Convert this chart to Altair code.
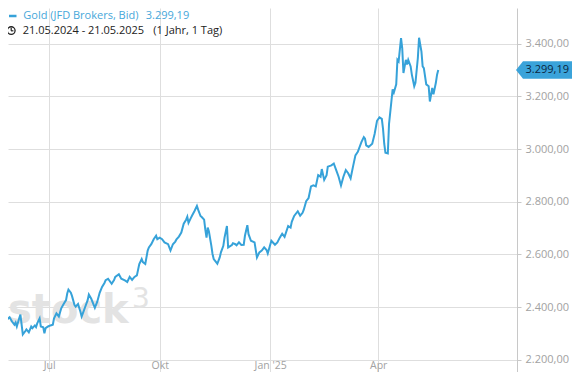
import altair as alt
import pandas as pd

# ---------------- data ----------------
start_date = "2024-05-21"
days = [0, 1, 3, 6, 8, 10, 12, 13, 14, 16, 17, 19, 21, 22, 24, 26, 27, 29, 30, 31,
        33, 34, 36, 37, 38, 40, 42, 44, 45, 47, 48, 49, 51, 53, 55, 56, 57, 59, 60, 62,
        63, 65, 67, 68, 69, 71, 73, 74,
        76, 79, 81, 83, 85, 87, 88, 90, 93, 95, 96, 99, 101, 104, 106, 108, 110, 112,
        114, 116, 118, 119, 121, 123, 124, 126, 128, 130, 131, 133, 135, 137, 140, 142,
        144, 146,
        147, 149, 151, 153, 155, 156, 157, 159, 160, 162, 164, 165, 167, 168, 170, 171,
        172, 173, 174, 176, 177, 178, 180, 181, 183, 184, 186, 187, 189, 190, 192, 193,
        194, 196, 197, 199, 201, 203, 204, 206, 207, 209, 212,
        214, 216, 218, 220, 222, 223, 226, 229, 231, 233, 235, 237, 240, 242, 243, 245,
        248, 250, 252, 253, 255, 257, 259, 261, 263, 265, 267, 268, 270, 272, 273, 276,
        278, 280, 282, 284, 286, 288, 290, 292, 294, 296, 298, 301, 303, 304, 305, 307,
        310, 312, 314, 316, 318, 319, 320, 321, 323, 324, 326, 327, 328, 330, 331, 332,
        334, 335, 336, 338, 339, 340, 342, 343, 345, 346, 348, 349, 351, 352, 353, 355,
        357, 358, 360, 361, 363, 364, 365]
price = [2428, 2391, 2335, 2354, 2362, 2346, 2334, 2342, 2327, 2358, 2372, 2297, 2309, 2316,
         2305, 2327, 2321, 2331, 2325, 2339, 2358, 2327, 2324, 2301, 2321, 2327, 2331, 2334,
         2358, 2377, 2371, 2365, 2396, 2412, 2427, 2452, 2467, 2455, 2442, 2409, 2402, 2412,
         2383, 2365, 2377, 2402, 2427, 2448,
         2432, 2398, 2421, 2455, 2477, 2492, 2503, 2508, 2489, 2503, 2515, 2525, 2508, 2502,
         2496, 2515, 2504, 2515, 2521, 2564, 2583, 2571, 2564, 2615, 2627, 2639, 2658, 2671,
         2658, 2664, 2658, 2646, 2639, 2615, 2639, 2649,
         2658, 2668, 2683, 2717, 2732, 2743, 2720, 2739, 2748, 2765, 2784, 2770, 2746, 2742,
         2732, 2694, 2664, 2702, 2687, 2634, 2602, 2583, 2571, 2565, 2589, 2608, 2633, 2664,
         2708, 2627, 2633, 2635, 2643, 2639, 2635, 2646, 2636, 2637, 2671, 2711, 2677, 2652,
         2646,
         2589, 2608, 2615, 2627, 2617, 2604, 2652, 2637, 2646, 2664, 2679, 2667, 2708, 2702,
         2724, 2746, 2764, 2747, 2758, 2770, 2802, 2814, 2858, 2862, 2858, 2901, 2895, 2924,
         2883, 2901, 2933, 2938, 2945, 2920, 2895, 2862, 2895, 2920, 2908, 2889, 2933, 2976,
         2989, 3026, 3045, 3039, 3014, 3008, 3020, 3057, 3107, 3120, 3114, 3076, 3020, 2986,
         2983, 3095, 3182, 3226, 3214, 3245, 3338, 3332, 3420, 3382, 3288, 3338, 3320, 3338,
         3313, 3282, 3238, 3251, 3345, 3422, 3369, 3313, 3307, 3245, 3238, 3180, 3232, 3207,
         3251, 3282, 3299.19]

y_ticks = [2200, 2400, 2600, 2800, 3000, 3200, 3400]
x_tick_months = [(2024, 7), (2024, 10), (2025, 1), (2025, 4)]
x_tick_labels = ["Jul", "Okt", "Jan '25", "Apr"]
last_price = [3299.19]
last_label = ["3.299,19"]
title_name = "Gold (JFD Brokers, Bid)"
title_value = "3.299,19"
period_text = "21.05.2024 - 21.05.2025"
period_len = "(1 Jahr, 1 Tag)"
watermark = "stock"
watermark_sup = "3"

# ---------------- build tables ----------------
t0 = pd.Timestamp(start_date)
df = pd.DataFrame({"date": [t0 + pd.Timedelta(days=d) for d in days], "price": price})
df_last = pd.DataFrame({"price": last_price, "label": last_label})

BLUE = "#36a2d9"
GRID = "#dedede"
LABEL = "#a2a2a2"
FONT = "Open Sans"
WM = "#e3e3e3"

x_label_expr = " : ".join(
    [f'month(datum.value) == {m - 1} ? "{lbl}"' for (_, m), lbl in zip(x_tick_months, x_tick_labels)]
) + ' : ""'
y_label_expr = ("replace(replace(replace(format(datum.value, ',.2f'), ',', '#'), '.', ','), '#', '.')")

x_enc = alt.X(
    "date:T",
    scale=alt.Scale(domain=[alt.DateTime(year=2024, month=5, date=27, hours=15, minutes=55),
                            alt.DateTime(year=2025, month=7, date=25, hours=13, minutes=55)]),
    axis=alt.Axis(values=[alt.DateTime(year=y, month=m, date=1) for y, m in x_tick_months],
                  labelExpr=x_label_expr, grid=True, gridColor=GRID, domain=False, ticks=False,
                  tickSize=0, labelPadding=-3.5, labelBaseline="alphabetic", labelColor=LABEL,
                  labelFont=FONT, labelFontSize=10.5, labelFlush=False, title=None),
)
y_enc = alt.Y(
    "price:Q",
    scale=alt.Scale(domain=[2154.5, 3534.6], nice=False, zero=False),
    axis=alt.Axis(orient="right", values=y_ticks, labelExpr=y_label_expr, grid=True,
                  gridColor=GRID, domainColor="#c8c8c8", tickColor="#c8c8c8", tickSize=4,
                  labelPadding=4, labelColor=LABEL, labelFont=FONT, labelFontSize=11,
                  title=None),
)

line = alt.Chart(df).mark_line(color=BLUE, strokeWidth=2, clip=True).encode(x=x_enc, y=y_enc)

wm1 = alt.Chart(df_last).mark_text(text=watermark, font="DejaVu Sans", fontSize=40,
                                   fontWeight="bold", color=WM, align="left",
                                   baseline="alphabetic").encode(
    x=alt.value(0), y=alt.value(315))
wm2 = alt.Chart(df_last).mark_text(text=watermark_sup, font="DejaVu Sans", fontSize=28,
                                   color=WM, align="left", baseline="alphabetic").encode(
    x=alt.value(124), y=alt.value(300))

tag_path = "M -1 0 L -0.75 -0.3125 L 1 -0.3125 L 1 0.3125 L -0.75 0.3125 Z"
tag = alt.Chart(df_last).mark_point(shape=tag_path, filled=True, size=3136, color="#3aa3da",
                                    opacity=1, strokeWidth=0).encode(
    x=alt.value(536), y=alt.Y("price:Q"))
tag_text = alt.Chart(df_last).mark_text(font=FONT, fontSize=11, color="#0c2640", align="left",
                                        baseline="middle").encode(
    x=alt.value(517.5), y=alt.Y("price:Q"), text="label:N")

dash = alt.Chart(df_last).mark_rule(color=BLUE, strokeWidth=2.5).encode(
    x=alt.value(1), x2=alt.value(8.5), y=alt.value(8))
t1 = alt.Chart(df_last).mark_text(text=title_name, font=FONT, fontSize=11, color="#47a7da",
                                  align="left", baseline="middle").encode(
    x=alt.value(15.3), y=alt.value(8.2))
t2 = alt.Chart(df_last).mark_text(text=title_value, font=FONT, fontSize=11, color="#47a7da",
                                  align="left", baseline="middle").encode(
    x=alt.value(137.7), y=alt.value(8.2))
clock = alt.Chart(df_last).mark_point(shape="circle", filled=False, size=60, color="#222222",
                                      strokeWidth=1.3, opacity=1).encode(
    x=alt.value(3.2), y=alt.value(22.6))
hand1 = alt.Chart(df_last).mark_rule(color="#222222", strokeWidth=1.2).encode(
    x=alt.value(3.2), y=alt.value(19.8), y2=alt.value(22.8))
hand2 = alt.Chart(df_last).mark_rule(color="#222222", strokeWidth=1.2).encode(
    x=alt.value(3.0), x2=alt.value(5.4), y=alt.value(22.8))
t3 = alt.Chart(df_last).mark_text(text=period_text, font=FONT, fontSize=11, color="#222222",
                                  align="left", baseline="alphabetic").encode(
    x=alt.value(14.7), y=alt.value(25.8))
t4 = alt.Chart(df_last).mark_text(text=period_len, font=FONT, fontSize=11, color="#222222",
                                  align="left", baseline="alphabetic").encode(
    x=alt.value(145.3), y=alt.value(25.8))

chart = alt.layer(wm1, wm2, line, tag, tag_text, dash, t1, t2, clock, hand1, hand2, t3, t4).properties(
    width=509, height=364,
    autosize=alt.AutoSizeParams(type="none"),
    padding={"left": 0, "top": 0, "right": 55, "bottom": 0},
    background="white",
).configure_view(stroke=None)

chart.save("out.html", embed_options={"renderer": "svg", "actions": False})
